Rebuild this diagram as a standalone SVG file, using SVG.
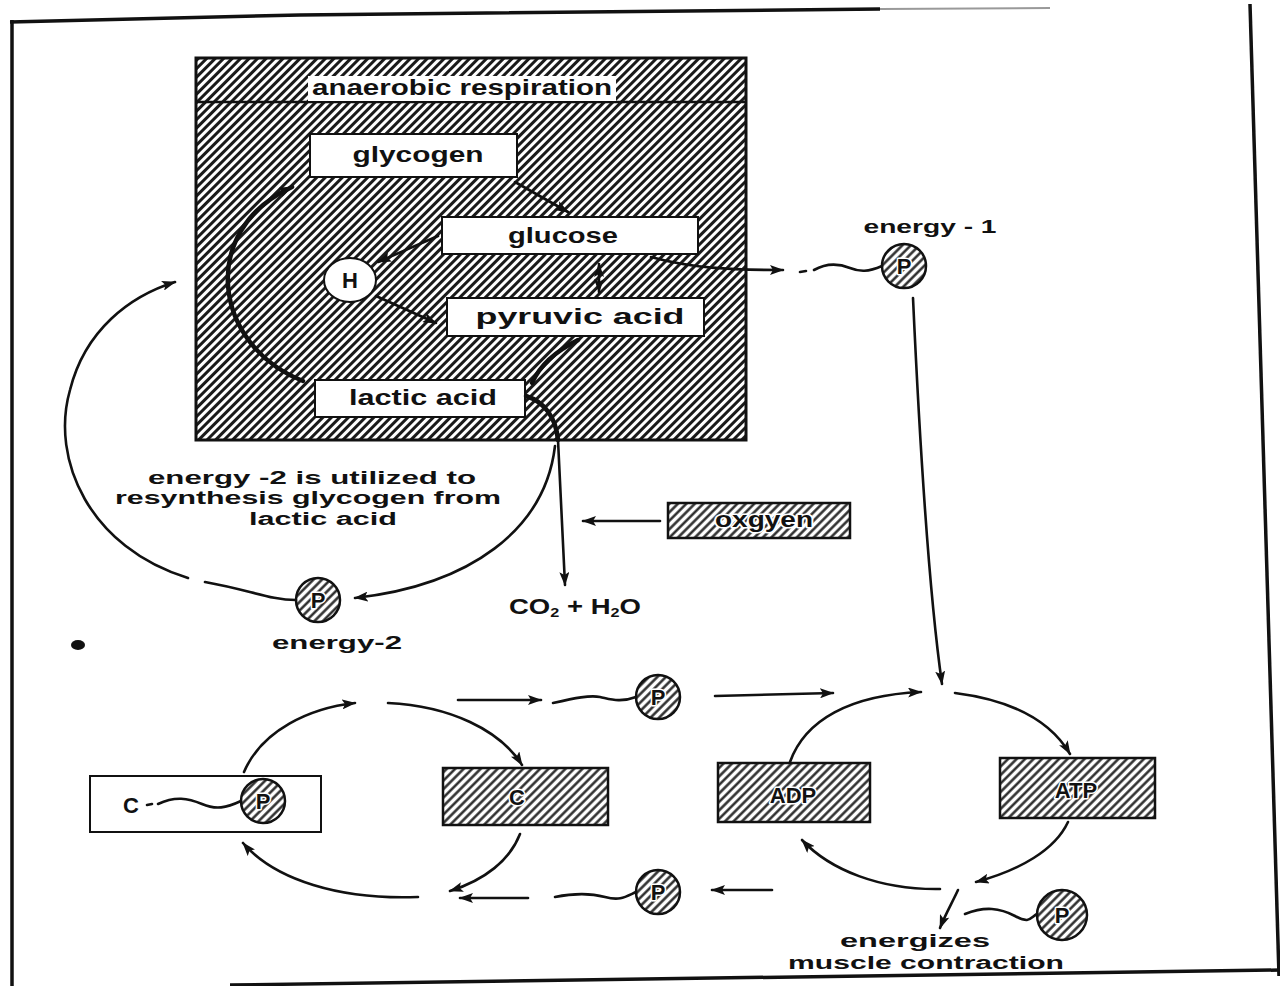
<svg xmlns="http://www.w3.org/2000/svg" width="1280" height="986" viewBox="0 0 1280 986">
<defs>
<pattern id="hatch" patternUnits="userSpaceOnUse" width="6" height="6" patternTransform="rotate(45)">
<rect width="6" height="6" fill="#fff"/>
<line x1="1.5" y1="0" x2="1.5" y2="6" stroke="#1a1a1a" stroke-width="3"/>
</pattern>
<pattern id="hatch2" patternUnits="userSpaceOnUse" width="6" height="6" patternTransform="rotate(45)">
<rect width="6" height="6" fill="#fff"/>
<line x1="1.5" y1="0" x2="1.5" y2="6" stroke="#222" stroke-width="2.4"/>
</pattern>
<marker id="ah" viewBox="0 0 14 10" refX="13" refY="5" markerWidth="14" markerHeight="10" markerUnits="userSpaceOnUse" orient="auto">
<path d="M0,0 L14,5 L0,10 L3,5 Z" fill="#111"/>
</marker>
<marker id="ahs" viewBox="0 0 14 10" refX="1" refY="5" markerWidth="14" markerHeight="10" markerUnits="userSpaceOnUse" orient="auto">
<path d="M14,0 L0,5 L14,10 L11,5 Z" fill="#111"/>
</marker>
<style>
.t{font-family:"Liberation Sans",Arial,sans-serif;font-weight:bold;fill:#111;font-size:22px}
.s{font-size:18px}
.tc{text-anchor:middle}
.halo{paint-order:stroke;stroke:#fff;stroke-width:3px;stroke-linejoin:round}
.ln{fill:none;stroke:#111;stroke-width:2.6;stroke-linecap:round}
.thick{fill:none;stroke:#111;stroke-width:4.5;stroke-linecap:round}
.wbox{fill:#fff;stroke:#111;stroke-width:2}
.hbox{fill:url(#hatch2);stroke:#111;stroke-width:2.5}
.pc{fill:url(#hatch2);stroke:#111;stroke-width:2.5}
.frame{fill:none;stroke:#111;stroke-width:3.5}
</style>
</defs>
<rect width="1280" height="986" fill="#fff"/>

<g id="frame">
<path class="frame" d="M 10 22 L 300 15 L 880 9"/>
<path d="M 880 9 L 1050 8" fill="none" stroke="#999" stroke-width="2"/>
<path class="frame" d="M 12 20 L 12 986"/>
<path class="frame" d="M 1250 4 L 1279 976"/>
<path class="frame" d="M 230 985 L 1280 970"/>
<ellipse cx="78" cy="645" rx="7" ry="5" fill="#111"/>
</g>

<g id="anaerobic-box">
<rect x="196" y="58" width="550" height="382" fill="url(#hatch)" stroke="#111" stroke-width="3"/>
<line x1="196" y1="102" x2="746" y2="102" stroke="#111" stroke-width="2.5"/>
<rect x="308" y="76" width="308" height="25" fill="#fff"/>
<text class="t tc" x="462" y="95" textLength="300" lengthAdjust="spacingAndGlyphs">anaerobic respiration</text>
</g>

<g id="glycogen">
<rect class="wbox" x="310" y="134" width="207" height="43"/>
<text class="t tc" x="418" y="162" textLength="131" lengthAdjust="spacingAndGlyphs">glycogen</text>
</g>
<g id="glucose">
<rect class="wbox" x="442" y="217" width="256" height="37"/>
<text class="t tc" x="563" y="243" textLength="110" lengthAdjust="spacingAndGlyphs">glucose</text>
</g>
<g id="H">
<ellipse cx="350" cy="280" rx="26" ry="22" fill="#fff" stroke="#111" stroke-width="2"/>
<text class="t tc" x="350" y="288" font-size="20">H</text>
</g>
<g id="pyruvic-acid">
<rect class="wbox" x="447" y="298" width="257" height="38"/>
<text class="t tc" x="580" y="324" textLength="209" lengthAdjust="spacingAndGlyphs">pyruvic  acid</text>
</g>
<g id="lactic-acid">
<rect class="wbox" x="315" y="380" width="210" height="37"/>
<text class="t tc" x="423" y="405" textLength="148" lengthAdjust="spacingAndGlyphs">lactic acid</text>
</g>

<g id="energy-1">
<circle class="pc" cx="904" cy="266" r="22"/>
<text class="t tc halo" x="904" y="274" font-size="19">P</text>
<text class="t tc s" x="930" y="233" textLength="133" lengthAdjust="spacingAndGlyphs">energy - 1</text>
</g>

<g id="energy-2">
<circle class="pc" cx="318" cy="600" r="22"/>
<text class="t tc halo" x="318" y="608" font-size="19">P</text>
<text class="t tc s" x="337" y="649" textLength="130" lengthAdjust="spacingAndGlyphs">energy-2</text>
</g>

<g id="note">
<text class="t tc s" x="312" y="484" textLength="328" lengthAdjust="spacingAndGlyphs">energy -2 is utilized to</text>
<text class="t tc s" x="308" y="504" textLength="386" lengthAdjust="spacingAndGlyphs">resynthesis  glycogen from</text>
<text class="t tc s" x="323" y="525" textLength="148" lengthAdjust="spacingAndGlyphs">lactic acid</text>
</g>

<g id="oxygen">
<rect class="hbox" x="668" y="503" width="182" height="35"/>
<text class="t tc halo" x="764" y="527" textLength="98" lengthAdjust="spacingAndGlyphs">oxgyen</text>
</g>

<g id="co2-h2o">
<text class="t tc" x="575" y="614" textLength="132" lengthAdjust="spacingAndGlyphs">CO<tspan font-size="13" dy="3">2</tspan><tspan dy="-3"> + H</tspan><tspan font-size="13" dy="3">2</tspan><tspan dy="-3">O</tspan></text>
</g>

<g id="creatine-phosphate">
<rect class="wbox" x="90" y="776" width="231" height="56" stroke-width="2.5"/>
<text class="t tc" x="131" y="813">C</text>
<circle class="pc" cx="263" cy="801" r="22"/>
<text class="t tc halo" x="263" y="809" font-size="19">P</text>
</g>
<g id="creatine">
<rect class="hbox" x="443" y="768" width="165" height="57"/>
<text class="t tc halo" x="517" y="805" font-size="24">C</text>
</g>
<g id="ADP">
<rect class="hbox" x="718" y="763" width="152" height="59"/>
<text class="t tc halo" x="793" y="803" font-size="23">ADP</text>
</g>
<g id="ATP">
<rect class="hbox" x="1000" y="758" width="155" height="60"/>
<text class="t tc halo" x="1076" y="798" font-size="23">ATP</text>
</g>
<g id="P-top">
<circle class="pc" cx="658" cy="697" r="22"/>
<text class="t tc halo" x="658" y="705" font-size="19">P</text>
</g>
<g id="P-bottom">
<circle class="pc" cx="658" cy="892" r="22"/>
<text class="t tc halo" x="658" y="900" font-size="19">P</text>
</g>
<g id="P-muscle">
<circle class="pc" cx="1062" cy="915" r="25"/>
<text class="t tc halo" x="1062" y="923" font-size="19">P</text>
</g>
<g id="muscle-label">
<text class="t tc s" x="915" y="947" textLength="150" lengthAdjust="spacingAndGlyphs">energizes</text>
<text class="t tc s" x="926" y="969" textLength="276" lengthAdjust="spacingAndGlyphs">muscle contraction</text>
</g>

<g id="connectors">
<path class="thick" d="M 303 381 C 212 345, 198 230, 292 187" marker-end="url(#ah)"/>
<path class="ln" d="M 515 182 L 568 212" marker-end="url(#ah)"/>
<path class="ln" d="M 438 236 L 378 262" marker-end="url(#ah)"/>
<path class="ln" d="M 376 296 L 436 323" marker-end="url(#ah)"/>
<path class="ln" d="M 599 264 L 599 292" marker-start="url(#ahs)" marker-end="url(#ah)"/>
<path class="thick" d="M 578 340 C 558 350, 540 365, 532 383"/>
<path class="thick" d="M 526 396 C 545 402, 556 418, 558 440"/>
<path class="ln" d="M 558 440 L 565 585" marker-end="url(#ah)"/>
<path class="ln" d="M 660 521 L 583 521" marker-end="url(#ah)"/>
<path class="ln" d="M 651 257 C 690 268, 730 270, 783 270" marker-end="url(#ah)"/>
<path class="ln" d="M 800 272 L 806 271"/>
<path class="ln" d="M 814 270 C 828 262, 840 264, 850 268 S 868 272, 882 266"/>
<path class="ln" d="M 913 298 C 920 450, 930 600, 942 684" marker-end="url(#ah)"/>
<path class="ln" d="M 555 446 C 545 530, 470 585, 355 598" marker-end="url(#ah)"/>
<path class="ln" d="M 296 600 C 270 600, 250 590, 205 582"/>
<path class="ln" d="M 188 578 C 90 548, 50 460, 70 390 C 85 330, 130 296, 175 282" marker-end="url(#ah)"/>

<path class="ln" d="M 244 772 C 262 730, 310 708, 355 703" marker-end="url(#ah)"/>
<path class="ln" d="M 388 703 C 450 706, 500 730, 522 765" marker-end="url(#ah)"/>
<path class="ln" d="M 520 834 C 510 860, 485 880, 450 891" marker-end="url(#ah)"/>
<path class="ln" d="M 418 897 C 340 900, 275 880, 243 843" marker-end="url(#ah)"/>
<path class="ln" d="M 458 700 L 541 700" marker-end="url(#ah)"/>
<path class="ln" d="M 553 703 C 575 698, 590 695, 600 697 S 620 703, 636 697"/>
<path class="ln" d="M 715 696 L 833 693" marker-end="url(#ah)"/>
<path class="ln" d="M 528 898 L 460 898" marker-end="url(#ah)"/>
<path class="ln" d="M 555 897 C 575 893, 590 893, 605 897 S 625 897, 636 892"/>
<path class="ln" d="M 772 890 L 712 890" marker-end="url(#ah)"/>
<path class="ln" d="M 147 805 L 152 804"/>
<path class="ln" d="M 158 804 C 175 796, 188 798, 202 804 S 226 808, 241 801"/>

<path class="ln" d="M 790 762 C 805 720, 850 695, 921 692" marker-end="url(#ah)"/>
<path class="ln" d="M 955 693 C 1010 700, 1050 720, 1070 754" marker-end="url(#ah)"/>
<path class="ln" d="M 1068 822 C 1055 850, 1020 870, 976 882" marker-end="url(#ah)"/>
<path class="ln" d="M 940 889 C 880 890, 830 870, 802 840" marker-end="url(#ah)"/>
<path class="ln" d="M 958 890 C 952 903, 945 915, 940 928" marker-end="url(#ah)"/>
<path class="ln" d="M 965 914 C 985 906, 1000 908, 1015 916 S 1030 918, 1037 914"/>
</g>
</svg>
